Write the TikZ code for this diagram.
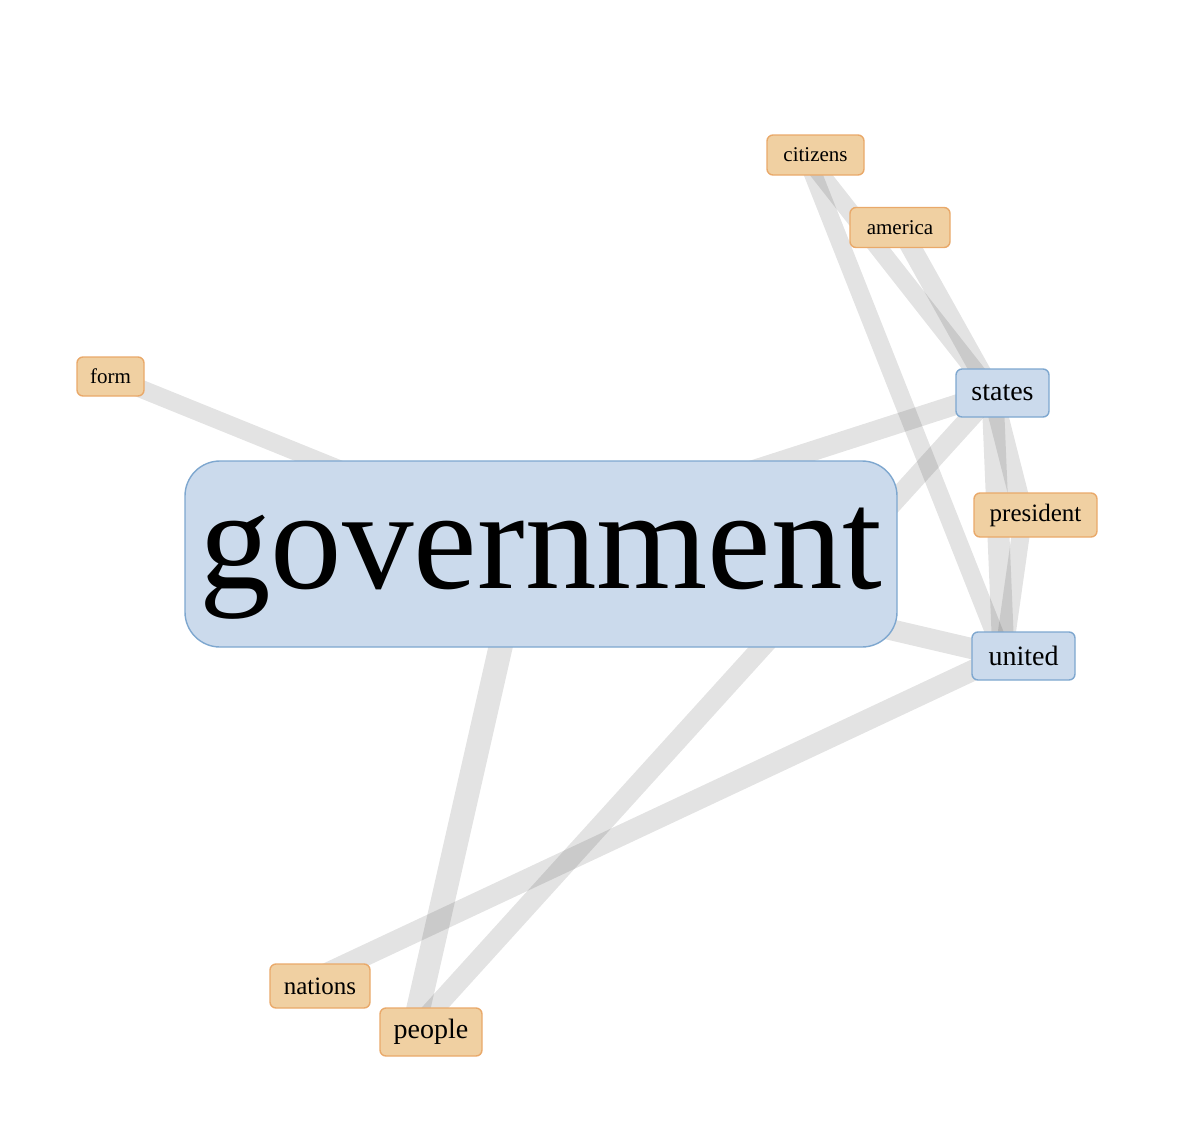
\documentclass[tikz,border=0pt]{standalone}
\usepackage{fontspec}
\setmainfont{Liberation Serif}
\usetikzlibrary{backgrounds}

\definecolor{hubfill}{HTML}{CBDAEC}
\definecolor{hubline}{HTML}{7EA7CF}
\definecolor{leaffill}{HTML}{F0D0A2}
\definecolor{leafline}{HTML}{E9A96A}

\begin{document}
\begin{tikzpicture}[x=1pt, y=-1pt,
        every node/.style={rounded corners=6pt, line width=1.4pt, inner sep=0pt},
        hub/.style={fill=hubfill, draw=hubline},
        leaf/.style={fill=leaffill, draw=leafline},
        wordS/.style={font=\fontsize{21}{24}\selectfont, minimum height=40pt},
        wordM/.style={font=\fontsize{25}{28}\selectfont, minimum height=44pt},
        wordL/.style={font=\fontsize{28}{31}\selectfont, minimum height=48pt},
        link/.style={draw=black, draw opacity=0.11, line width=#1},
        link/.default=20pt]
        \useasboundingbox (0,0) rectangle (1181,1135);

        \node[hub, rounded corners=35pt, minimum width=712pt, minimum height=186pt,
              text height=95pt, text depth=27pt,
              font=\fontsize{143}{150}\selectfont] (government) at (541,554) {government};

        \node[hub, wordL, minimum width=93pt]   (states)    at (1002.5,393) {states};
        \node[hub, wordL, minimum width=103pt]  (united)    at (1023.5,656) {united};

        \node[leaf, wordS, minimum width=97pt]  (citizens)  at (815.5,155)  {citizens};
        \node[leaf, wordS, minimum width=100pt] (america)   at (900,227.5)  {america};
        \node[leaf, wordS, minimum width=67pt, minimum height=39pt] (form) at (110.5,376.5) {form};
        \node[leaf, wordM, minimum width=123pt] (president) at (1035.5,515) {president};
        \node[leaf, wordM, minimum width=100pt] (nations)   at (320,986)    {nations};
        \node[leaf, wordL, minimum width=102pt] (people)    at (431,1032)   {people};

        \begin{pgfonlayer}{background}
        \draw[link=18pt] (form.center) -- ([shift={(-17pt,10pt)}]government.center);
        \draw[link=20pt] ([shift={(-17pt,10pt)}]government.center) -- ([xshift=-10pt]states.center);
        \draw[link=21pt] ([shift={(-17pt,10pt)}]government.center) -- ([xshift=-20pt]united.center);
        \draw[link=24pt] ([shift={(-17pt,10pt)}]government.center) -- ([xshift=-18pt]people.center);

        \draw[link=20pt] ([xshift=-10pt]states.center) -- ([xshift=-18pt]people.center);
        \draw[link=21pt] ([xshift=-20pt]nations.center) -- ([xshift=-20pt]united.center);

        \draw[link=18pt] ([xshift=-10pt]citizens.center) -- ([xshift=-20pt]united.center);
        \draw[link=18pt] ([xshift=-10pt]citizens.center) -- ([xshift=-10pt]states.center);
        \draw[link=20pt] (america.center) -- ([xshift=-10pt]states.center);

        \draw[link=22pt] ([xshift=-10pt]states.center) -- ([xshift=-20pt]united.center);
        \draw[link=20pt] ([xshift=-10pt]states.center) -- ([xshift=-12pt]president.center);
        \draw[link=18pt] ([xshift=-12pt]president.center) -- ([xshift=-20pt]united.center);
        \end{pgfonlayer}
\end{tikzpicture}
\end{document}
